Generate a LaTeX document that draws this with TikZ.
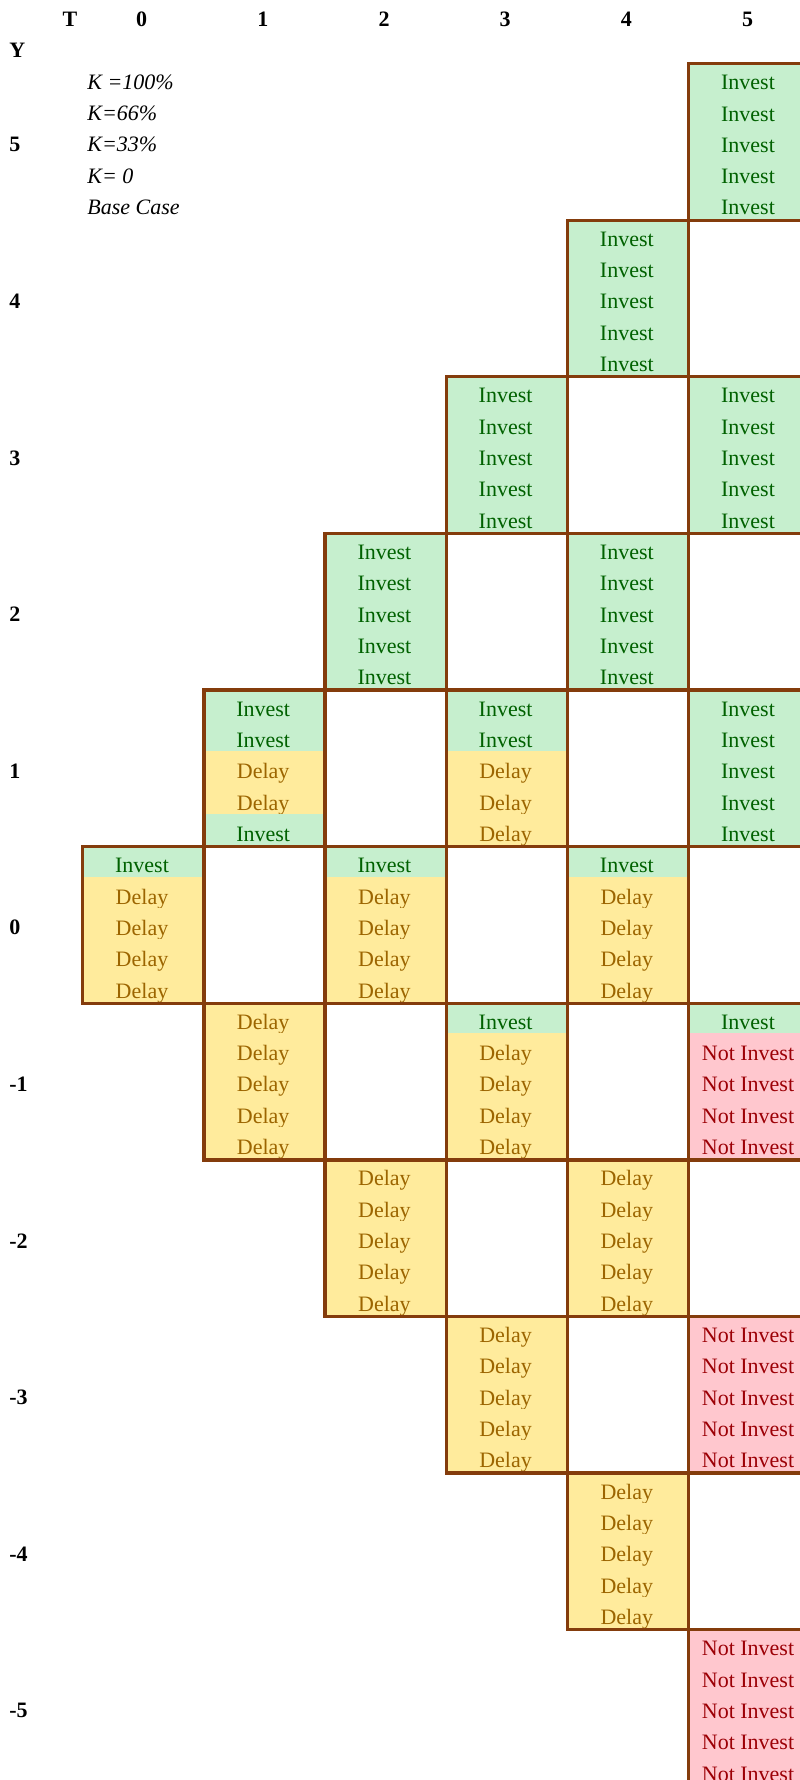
\documentclass[tikz,border=0pt]{standalone}
\usepackage{fontspec}
\setmainfont{Liberation Serif}
\usepackage{tikz}
\usetikzlibrary{positioning,backgrounds}

\definecolor{invfill}{HTML}{C6EFCE}
\definecolor{invtext}{HTML}{006100}
\definecolor{dlyfill}{HTML}{FFEB9C}
\definecolor{dlytext}{HTML}{9C6500}
\definecolor{notfill}{HTML}{FFC7CE}
\definecolor{nottext}{HTML}{9C0006}
\definecolor{brd}{HTML}{843C0C}

% T / row (5-Y) / decisions for K=100%, 66%, 33%, 0, base case
\newcommand\latticedata{
  0/5/{I,D,D,D,D},
  1/4/{I,I,D,D,I}, 1/6/{D,D,D,D,D},
  2/3/{I,I,I,I,I}, 2/5/{I,D,D,D,D}, 2/7/{D,D,D,D,D},
  3/2/{I,I,I,I,I}, 3/4/{I,I,D,D,D}, 3/6/{I,D,D,D,D}, 3/8/{D,D,D,D,D},
  4/1/{I,I,I,I,I}, 4/3/{I,I,I,I,I}, 4/5/{I,D,D,D,D}, 4/7/{D,D,D,D,D}, 4/9/{D,D,D,D,D},
  5/0/{I,I,I,I,I}, 5/2/{I,I,I,I,I}, 5/4/{I,I,I,I,I}, 5/6/{I,N,N,N,N}, 5/8/{N,N,N,N,N}, 5/10/{N,N,N,N,N}}

\begin{document}
\begin{tikzpicture}[
    x=60.6pt, y=-15.66pt,
    every node/.style={font=\fontsize{11pt}{13pt}\selectfont, inner sep=0pt},
    slot/.style={anchor=north west, minimum width=60.6pt, minimum height=15.66pt, text height=13.66pt, text depth=2pt},
    cI/.style={slot, fill=invfill, text=invtext, node contents={Invest}},
    cD/.style={slot, fill=dlyfill, text=dlytext, node contents={Delay}},
    cN/.style={slot, fill=notfill, text=nottext, node contents={Not Invest}},
    blk/.style={draw=brd, line width=1.65pt, anchor=north west, minimum width=60.6pt, minimum height=78.3pt},
    hdr/.style={font=\fontsize{11pt}{13pt}\selectfont\bfseries},
    leg/.style={font=\fontsize{11pt}{13pt}\selectfont\itshape, anchor=base west}
]
\clip (-0.6683,-1.9796) rectangle (5.9323,54.853);

% axis labels
\node[hdr, anchor=base] (tlbl) at (-0.091,-1.128) {T};
\node[hdr, anchor=base west] (ylbl) at (-0.594,-0.128) {Y};
\foreach \t in {0,...,5}
  \node[hdr, anchor=base] (t\t) at (\t+0.5,-1.128) {\t};
\foreach \yy in {5,...,-5}
  \node[hdr, anchor=base west] (y\yy) at (-0.594,25-5*\yy+2.872) {\yy};

% legend
\node[leg] (k100) at (0.05,0.872) {K =100\%};
\node[leg] (k66) at (0.05,1.872) {K=66\%};
\node[leg] (k33) at (0.05,2.872) {K=33\%};
\node[leg] (k0) at (0.05,3.872) {K= 0};
\node[leg] (kbase) at (0.05,4.872) {Base Case};

% decision cells
\foreach \t/\r/\cells in \latticedata
  \foreach \k [count=\i from 0] in \cells
    \node (l-\t-\r-\i) at (\t,5*\r+\i) [c\k];

% borders round each state
\foreach \t/\r/\cells in \latticedata
  \node[blk] (b-\t-\r) at (\t,5*\r) {};
\end{tikzpicture}
\end{document}
